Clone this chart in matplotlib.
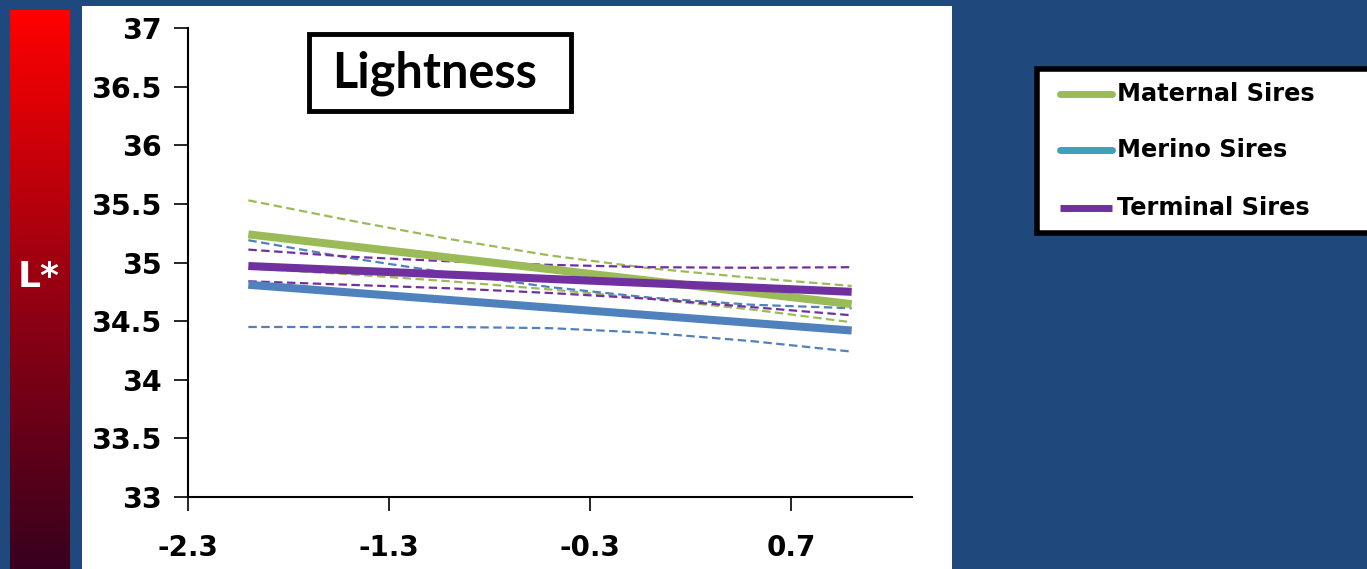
import numpy as np
import matplotlib.pyplot as plt
from matplotlib.colors import LinearSegmentedColormap
from matplotlib.patches import Rectangle
from matplotlib.lines import Line2D

# covariate values and fitted L* for each sire type
x_fit = [-2.0, 1.0]
maternal_fit = [35.24, 34.645]
merino_fit = [34.81, 34.42]
terminal_fit = [34.97, 34.75]

# confidence bands
x_band = [-2.0, -1.5, -1.0, -0.5, 0.0, 0.5, 1.0]
maternal_upper = [35.53, 35.36, 35.20, 35.06, 34.95, 34.87, 34.80]
maternal_lower = [34.95, 34.90, 34.84, 34.77, 34.69, 34.60, 34.49]
merino_upper = [35.19, 35.04, 34.91, 34.79, 34.70, 34.64, 34.61]
merino_lower = [34.45, 34.45, 34.45, 34.44, 34.40, 34.33, 34.24]
terminal_upper = [35.11, 35.05, 35.01, 34.98, 34.96, 34.955, 34.96]
terminal_lower = [34.84, 34.81, 34.78, 34.74, 34.69, 34.62, 34.55]

x_ticks = [-2.3, -1.3, -0.3, 0.7]
y_ticks = [33, 33.5, 34, 34.5, 35, 35.5, 36, 36.5, 37]
labels = ['Maternal Sires', 'Merino Sires', 'Terminal Sires']

green = '#9BBB59'
blue = '#4F81BD'
purple = '#7030A0'
teal = '#3FA0B9'
navy = '#1F497D'

W, H = 1367, 569
fig = plt.figure(figsize=(W / 100, H / 100), dpi=100, facecolor=navy)


def fx(px):
    return px / W


def fy(py):
    return 1 - py / H


# white panel behind the chart
fig.add_artist(Rectangle((fx(82), fy(569)), fx(952) - fx(82), fy(6) - fy(569),
                         transform=fig.transFigure, facecolor='white',
                         edgecolor='none', zorder=0))

# red gradient bar with the L* label
gax = fig.add_axes([fx(10), 0, fx(70) - fx(10), fy(10)])
cmap = LinearSegmentedColormap.from_list('lred', ['#FF0000', '#960012', '#38001E'])
gax.imshow(np.linspace(0, 1, 256).reshape(-1, 1), aspect='auto', cmap=cmap)
gax.axis('off')
fig.text(fx(39), fy(277), 'L*', color='white', fontsize=26, fontweight='bold',
         ha='center', va='center')

ax = fig.add_axes([fx(188), fy(497), fx(912) - fx(188), fy(28) - fy(497)])
ax.set_facecolor('white')

dash = (3.8, 2.0)
for up, lo, c in [(maternal_upper, maternal_lower, green),
                  (merino_upper, merino_lower, blue),
                  (terminal_upper, terminal_lower, purple)]:
    ax.plot(x_band, up, color=c, lw=1.6, dashes=dash)
    ax.plot(x_band, lo, color=c, lw=1.6, dashes=dash)

ax.plot(x_fit, maternal_fit, color=green, lw=5.8, solid_capstyle='butt')
ax.plot(x_fit, merino_fit, color=blue, lw=5.8, solid_capstyle='butt')
ax.plot(x_fit, terminal_fit, color=purple, lw=5.8, solid_capstyle='butt')

ax.set_xlim(-2.3, 1.3)
ax.set_ylim(33, 37)
ax.set_xticks(x_ticks)
ax.set_yticks(y_ticks)
ax.set_xticklabels([f'{v:g}' for v in x_ticks], fontsize=20, fontweight='bold')
ax.set_yticklabels([f'{v:g}' for v in y_ticks], fontsize=20.5, fontweight='bold')
ax.spines['top'].set_visible(False)
ax.spines['right'].set_visible(False)
for s in ['left', 'bottom']:
    ax.spines[s].set_linewidth(1.5)
ax.tick_params(axis='y', length=10, width=1.2, pad=9)
ax.tick_params(axis='x', length=10, width=1.2, pad=17)

# title box
fig.add_artist(Rectangle((fx(309), fy(111)), fx(571) - fx(309), fy(34) - fy(111),
                         transform=fig.transFigure, facecolor='white',
                         edgecolor='black', lw=3.5, zorder=5))
fig.text(fx(435), fy(73), 'Lightness', fontsize=35, fontweight='bold',
         family=['Lato', 'DejaVu Sans'], ha='center', va='center', zorder=6)

# legend box, running off the right edge
fig.add_artist(Rectangle((fx(1037), fy(233)), fx(1400) - fx(1037), fy(69) - fy(233),
                         transform=fig.transFigure, facecolor='white',
                         edgecolor='black', lw=4, zorder=5, clip_on=False))
for yy, c, lab, cap in [(94, green, labels[0], 'round'),
                        (150, teal, labels[1], 'round'),
                        (208, purple, labels[2], 'butt')]:
    fig.add_artist(Line2D([fx(1060), fx(1112)], [fy(yy), fy(yy)], color=c, lw=5,
                          solid_capstyle=cap, transform=fig.transFigure, zorder=6))
    fig.text(fx(1117), fy(yy), lab, fontsize=17.3, fontweight='bold',
             ha='left', va='center', zorder=6)

fig.savefig('out.png', dpi=100, facecolor=navy)
